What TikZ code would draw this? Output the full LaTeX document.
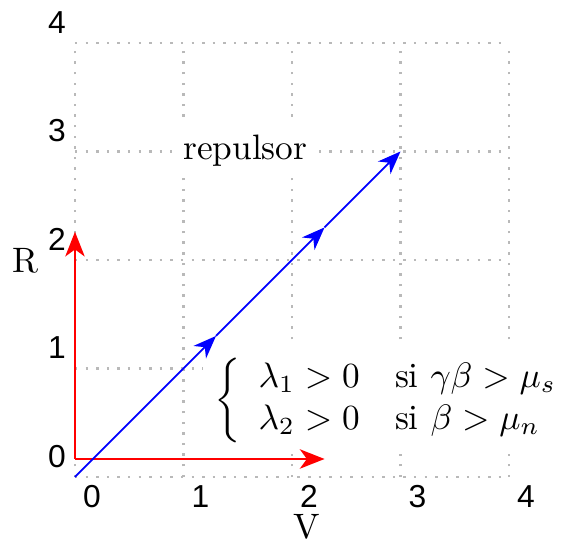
\documentclass[tikz,border=0pt]{standalone}
\usepackage{amsmath}
\usepackage{fontspec}
\newfontfamily\ticksf{Liberation Sans}
\usetikzlibrary{arrows.meta}
\begin{document}
\begin{tikzpicture}[x=1.08cm,y=1.08cm,
  gridline/.style={gray!55, line width=0.6pt, dash pattern=on 0.7pt off 2.3pt},
  tick/.style={font=\ticksf\fontsize{9}{10}\selectfont, inner sep=0pt},
  label/.style={fill=white},
  redarr/.style={red, line width=0.6pt, -{Stealth[length=7pt,width=5.5pt,inset=2pt]}},
  bluearr/.style={blue, line width=0.5pt, -{Stealth[length=6.5pt,width=5pt,inset=2pt]}}]
\useasboundingbox (-0.691,-0.599) rectangle (4.479,4.396);
\draw[gridline, step=1.08cm] (0,0) grid (4,4);
% tick labels
\foreach \k in {0,...,4}{
  \node[tick] (x\k) at (0.157+\k,-0.18) {\k};
  \node[tick] (y\k) at (-0.166,0.19+\k) {\k};
}
\node (R) at (-0.46,1.99) {R};
\node (V) at (2.14,-0.46) {V};
\node[label, anchor=base] (rep) at (1.57,2.93) {repulsor};
\node[label] (cond) at (2.96,0.71) {$\left\{\begin{array}{ll}\lambda_1>0 & \mbox{si }\gamma\beta>\mu_s\\ \lambda_2>0 & \mbox{si }\beta>\mu_n\end{array}\right.$};
% red axes
\coordinate (P) at (0,0.166);
\coordinate (PH) at (2.3,0.166);
\coordinate (PV) at (0,2.26);
\draw[redarr] (P) -- (PH);
\draw[redarr] (P) -- (PV);
% blue trajectory
\coordinate (B0) at (0,0);
\coordinate (B1) at (1.3,1.3);
\coordinate (B2) at (2.3,2.3);
\coordinate (B3) at (3,3);
\draw[bluearr] (B0) -- (B1);
\draw[bluearr] (B1) -- (B2);
\draw[bluearr] (B2) -- (B3);
\end{tikzpicture}
\end{document}
